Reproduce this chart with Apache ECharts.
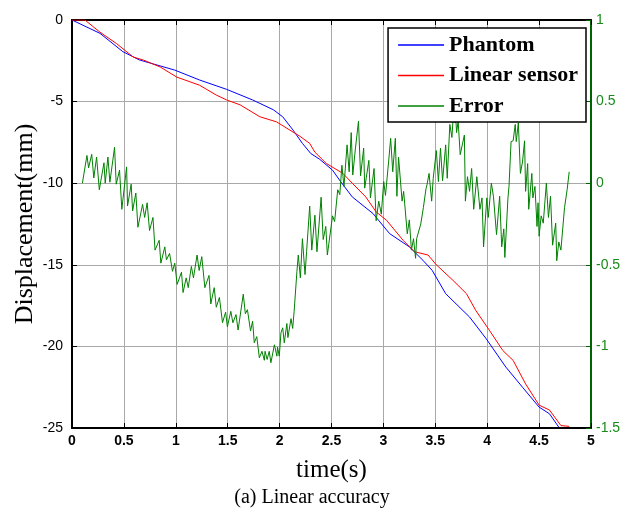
<!DOCTYPE html>
<html>
<head>
<meta charset="utf-8">
<script src="https://cdn.jsdelivr.net/npm/echarts@6/dist/echarts.min.js"></script>
<style>
  html, body { margin: 0; padding: 0; background: #fff; }
  #chart { width: 624px; height: 508px; }
</style>
</head>
<body>
<div id="chart"></div>
<script>
// Phantom (blue) displacement, mm
const phantomT = [0, 0.27, 0.49, 0.65, 0.99, 1.23, 1.49, 1.74, 1.94, 2.03, 2.13, 2.22, 2.30, 2.385, 2.51, 2.59, 2.70, 2.90, 3.06, 3.25, 3.38, 3.47, 3.60, 3.83, 3.99, 4.18, 4.34, 4.50, 4.60, 4.69]
const phantomD = [0, -0.82, -1.94, -2.45, -3.07, -3.68, -4.25, -4.9, -5.5, -5.93, -6.75, -7.56, -8.18, -8.53, -9.2, -9.92, -10.84, -11.86, -13.09, -13.9, -14.72, -15.34, -16.77, -18.2, -19.53, -21.27, -22.5, -23.72, -24.13, -24.95]

// Linear sensor (red) displacement, mm
const sensorT = [0, 0.125, 0.27, 0.43, 0.59, 0.69, 0.85, 1.01, 1.23, 1.39, 1.49, 1.62, 1.81, 1.97, 2.10, 2.19, 2.29, 2.34, 2.45, 2.61, 2.70, 2.83, 2.93, 3.03, 3.19, 3.30, 3.43, 3.51, 3.67, 3.80, 3.89, 4.02, 4.15, 4.25, 4.37, 4.50, 4.60, 4.71, 4.79]
const sensorD = [0, 0, -0.75, -1.45, -2.27, -2.46, -2.88, -3.5, -4.0, -4.6, -4.9, -5.2, -5.93, -6.24, -6.75, -7.1, -7.56, -8.1, -8.79, -9.4, -10.0, -10.84, -11.76, -12.27, -13.5, -14.2, -14.4, -15.0, -15.95, -16.77, -17.8, -19.0, -20.25, -20.86, -22.3, -23.6, -23.9, -24.85, -24.9]

// Error (green), right axis
const errorT = [0.10, 0.144, 0.16, 0.19, 0.21, 0.237, 0.263, 0.308, 0.32, 0.346, 0.365, 0.41, 0.426, 0.458, 0.48, 0.526, 0.535, 0.57, 0.584, 0.615, 0.635, 0.68, 0.70, 0.724, 0.747, 0.78, 0.80, 0.84, 0.856, 0.894, 0.91, 0.94, 0.968, 0.99,
  1.013, 1.055, 1.07, 1.10, 1.12, 1.15, 1.17, 1.205, 1.225, 1.25, 1.28, 1.32, 1.337, 1.37, 1.39, 1.42, 1.45, 1.48, 1.497, 1.53, 1.55, 1.58, 1.60, 1.65, 1.67, 1.69, 1.72, 1.74, 1.756, 1.78, 1.805, 1.83, 1.853, 1.86, 1.88, 1.90, 1.916, 1.95, 1.974, 1.98, 1.997,
  2.013, 2.03, 2.045, 2.07, 2.08, 2.11, 2.126, 2.14, 2.167, 2.18, 2.20, 2.22, 2.245, 2.26, 2.29, 2.31, 2.34, 2.36, 2.40, 2.42, 2.445, 2.46, 2.51, 2.53, 2.56, 2.58, 2.60, 2.62, 2.65, 2.67, 2.69, 2.705, 2.73, 2.76, 2.78, 2.81, 2.82, 2.86, 2.875, 2.91, 2.93, 2.955, 2.98,
  3.003, 3.02, 3.05, 3.07, 3.09, 3.115, 3.13, 3.146, 3.18, 3.195, 3.23, 3.25, 3.27, 3.29, 3.31, 3.32, 3.36, 3.385, 3.41, 3.42, 3.44, 3.465, 3.48, 3.51, 3.53, 3.55, 3.57, 3.60, 3.615, 3.64, 3.66, 3.67, 3.70, 3.705, 3.72, 3.74, 3.78, 3.79, 3.81, 3.83, 3.85, 3.87, 3.90, 3.93, 3.95, 3.965, 3.996,
  4.01, 4.04, 4.06, 4.09, 4.12, 4.14, 4.16, 4.17, 4.20, 4.21, 4.23, 4.25, 4.27, 4.28, 4.30, 4.32, 4.34, 4.36, 4.37, 4.39, 4.40, 4.43, 4.44, 4.46, 4.48, 4.49, 4.50, 4.52, 4.54, 4.57, 4.59, 4.61, 4.63, 4.66, 4.67, 4.69, 4.71, 4.745, 4.77, 4.79]
const errorV = [0.00, 0.17, 0.094, 0.177, 0.032, 0.16, -0.04, 0.125, 0.0, 0.16, 0.006, 0.22, -0.006, 0.08, -0.16, 0.10, -0.14, -0.006, -0.17, -0.06, -0.27, -0.13, -0.21, -0.12, -0.29, -0.21, -0.41, -0.35, -0.49, -0.39, -0.47, -0.43, -0.54, -0.49,
  -0.62, -0.545, -0.67, -0.58, -0.64, -0.51, -0.58, -0.44, -0.535, -0.45, -0.64, -0.565, -0.74, -0.64, -0.76, -0.70, -0.855, -0.79, -0.88, -0.785, -0.855, -0.805, -0.90, -0.68, -0.80, -0.775, -0.906, -0.845, -0.978, -0.94, -1.07, -1.03, -1.085, -1.03, -1.08, -1.03, -1.10, -0.99, -1.06, -1.005, -1.06,
  -0.917, -0.886, -0.978, -0.86, -0.946, -0.83, -0.89, -0.785, -0.54, -0.44, -0.58, -0.34, -0.56, -0.42, -0.14, -0.41, -0.196, -0.42, -0.086, -0.345, -0.265, -0.44, -0.2, -0.235, -0.04, -0.07, 0.11, -0.02, 0.235, 0.07, 0.31, 0.05, 0.21, 0.38, 0.045, 0.215, -0.03, 0.14, -0.09, 0.09, -0.23, -0.11, -0.19,
  0.01, -0.075, 0.13, 0.275, 0.07, 0.275, -0.08, 0.16, -0.11, -0.05, -0.31, -0.225, -0.41, -0.34, -0.46, -0.34, -0.25, -0.15, -0.035, -0.01, 0.06, -0.11, 0.03, 0.2, 0.01, 0.215, 0.015, 0.235, 0.03, 0.36, 0.28, 0.38, 0.37, 0.31, 0.38, 0.175, 0.295, -0.11, 0.04, -0.05, 0.09, -0.16, 0.04, -0.16, -0.09, -0.39, -0.09,
  -0.21, 0.0, -0.08, -0.315, -0.08, -0.39, -0.28, -0.455, -0.09, -0.02, 0.255, 0.26, 0.36, 0.255, 0.37, 0.06, 0.13, 0.26, -0.05, 0.12, -0.16, 0.06, -0.09, -0.02, -0.265, -0.12, -0.325, -0.2, -0.245, 0.0, -0.21, -0.08, -0.38, -0.245, -0.475, -0.36, -0.41, -0.15, -0.04, 0.07]

const xTicks = [0, 5, 0.5]      // min, max, step (s)
const leftTicks = [-25, 0, 5]   // mm
const rightTicks = [-1.5, 1, 0.5]

const zip = (a, b) => a.map((v, i) => [v, b[i]])

const chart = echarts.init(document.getElementById('chart'))
const serif = 'Liberation Serif'
const sans = 'Liberation Sans'
const lineIcon = 'rect'

chart.setOption({
  animation: false,
  grid: { left: 72, right: 33, top: 20, bottom: 80 },
  legend: {
    right: 38,
    top: 28,
    width: 190,
    orient: 'vertical',
    backgroundColor: '#fff',
    borderColor: '#000',
    borderWidth: 1.5,
    borderRadius: 0,
    padding: [5, 8, 4, 10],
    itemGap: 6.5,
    itemWidth: 46,
    itemHeight: 1.5,
    icon: lineIcon,
    textStyle: { fontFamily: serif, fontWeight: 'bold', fontSize: 22, lineHeight: 24, color: '#000' },
    data: ['Phantom', 'Linear sensor', 'Error']
  },
  xAxis: [
    {
      type: 'value',
      min: xTicks[0], max: xTicks[1], interval: xTicks[2],
      name: 'time(s)',
      nameLocation: 'middle',
      nameGap: 30,
      nameTextStyle: { fontFamily: serif, fontSize: 25, color: '#000' },
      axisLine: { onZero: false, lineStyle: { color: '#000', width: 2 } },
      axisTick: { inside: true, length: 5, lineStyle: { color: '#000' } },
      axisLabel: { fontFamily: sans, fontWeight: 'bold', fontSize: 14, color: '#000', margin: 6 },
      splitLine: { show: true, lineStyle: { color: '#a8a8a8', width: 1 } }
    },
    {
      type: 'value', position: 'top',
      min: xTicks[0], max: xTicks[1], interval: xTicks[2],
      axisLine: { onZero: false, lineStyle: { color: '#000', width: 2 } },
      axisTick: { inside: true, length: 5, lineStyle: { color: '#000' } },
      axisLabel: { show: false },
      splitLine: { show: false }
    }
  ],
  yAxis: [
    {
      type: 'value', position: 'left',
      min: leftTicks[0], max: leftTicks[1], interval: leftTicks[2],
      name: 'Displacement(mm)',
      nameLocation: 'middle',
      nameGap: 34,
      nameMoveOverlap: false,
      nameTextStyle: { fontFamily: serif, fontSize: 26, color: '#000' },
      axisLine: { show: true, onZero: false, lineStyle: { color: '#000', width: 2 } },
      axisTick: { show: true, inside: true, length: 5, lineStyle: { color: '#000' } },
      axisLabel: { fontFamily: sans, fontSize: 14, color: '#000', margin: 9 },
      splitLine: { show: true, lineStyle: { color: '#a8a8a8', width: 1 } }
    },
    {
      type: 'value', position: 'right',
      min: rightTicks[0], max: rightTicks[1], interval: rightTicks[2],
      axisLine: { show: true, onZero: false, lineStyle: { color: '#006400', width: 2 } },
      axisTick: { show: true, inside: true, length: 5, lineStyle: { color: '#006400' } },
      axisLabel: { fontFamily: sans, fontSize: 14, color: '#1a8a1a', margin: 5 },
      splitLine: { show: false }
    }
  ],
  graphic: [
    {
      type: 'text', left: 'center', top: 488,
      style: { text: '(a) Linear accuracy', font: '20px "Liberation Serif"', fill: '#000' }
    }
  ],
  series: [
    {
      name: 'Phantom', type: 'line', symbol: 'none',
      lineStyle: { color: '#0000ff', width: 1 }, itemStyle: { color: '#0000ff' },
      data: zip(phantomT, phantomD)
    },
    {
      name: 'Linear sensor', type: 'line', symbol: 'none',
      lineStyle: { color: '#ff0000', width: 1 }, itemStyle: { color: '#ff0000' },
      data: zip(sensorT, sensorD)
    },
    {
      name: 'Error', type: 'line', symbol: 'none', yAxisIndex: 1,
      lineStyle: { color: '#008000', width: 1 }, itemStyle: { color: '#008000' },
      data: zip(errorT, errorV)
    }
  ]
})
</script>
</body>
</html>
